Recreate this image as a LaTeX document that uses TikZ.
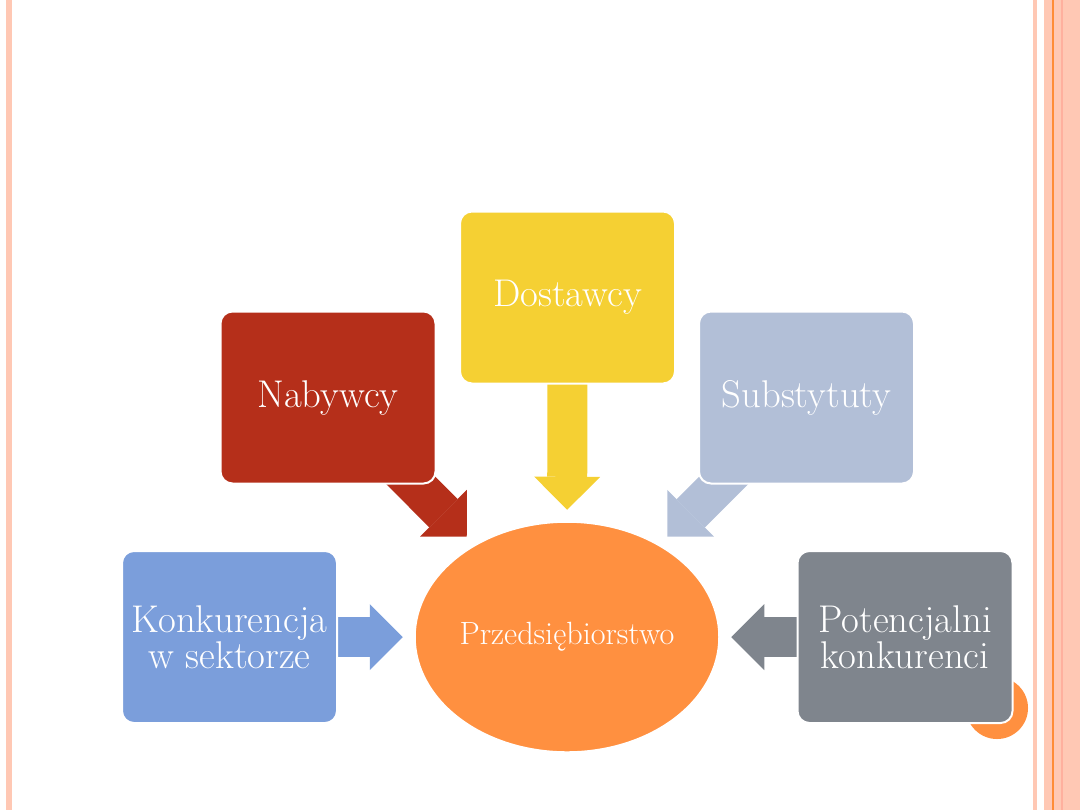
\documentclass[tikz,border=0pt]{standalone}
\usepackage{tikz}
\usetikzlibrary{arrows.meta, shapes.geometric, backgrounds}
\definecolor{konkblue}{HTML}{7B9EDB}
\definecolor{nabred}{HTML}{B52F1A}
\definecolor{dostyellow}{HTML}{F5D033}
\definecolor{subsblue}{HTML}{B2BFD7}
\definecolor{potgray}{HTML}{7F858D}
\definecolor{firmorange}{HTML}{FF9040}
\definecolor{slidepeach}{HTML}{FFC8B4}
\definecolor{slideorange}{HTML}{FF8C37}

\begin{document}
\begin{tikzpicture}[x=0.2mm, y=-0.2mm,
  box/.style={rectangle, rounded corners=2.4mm, draw=white, line width=0.4mm,
              minimum width=43mm, minimum height=34.4mm, text=white, align=center,
              font=\fontsize{22}{20.5}\selectfont},
  blk/.style={line width=8mm, -{Triangle[width=13.2mm, length=6.6mm, line width=0pt]},
              shorten >=2.3mm}
]
\useasboundingbox (0,0) rectangle (1080,810);
% slide frame
\fill[slidepeach] (6,0) rectangle (12,810);
\fill[slidepeach] (1033,0) rectangle (1037,810);
\fill[slidepeach] (1044,0) rectangle (1080,810);
\fill[slideorange] (1052,0) rectangle (1054,810);
\fill[slidepeach!88!red] (1061,0) rectangle (1063,810);
\node[circle, fill=firmorange, minimum size=12.4mm] (dot) at (997,708) {};

\node[ellipse, fill=firmorange, draw=white, line width=0.3mm, inner sep=0pt,
      minimum width=60.8mm, minimum height=46mm, text=white,
      font=\fontsize{18.3}{20}\selectfont] (firm) at (567,637) {Przedsiębiorstwo};
\node[box, fill=konkblue]   (konk) at (229.5,637) {Konkurencja\\w sektorze};
\node[box, fill=nabred]     (naby) at (328,397.5) {Nabywcy};
\node[box, fill=dostyellow] (dost) at (567.5,297.5) {Dostawcy};
\node[box, fill=subsblue]   (subs) at (806.5,397.5) {Substytuty};
\node[box, fill=potgray]    (pot)  at (905,637) {Potencjalni\\konkurenci};

\begin{scope}[on background layer]
\draw[blk, konkblue]   (konk.center) -- (firm);
\draw[blk, nabred]     (naby.center) -- (firm);
\draw[blk, dostyellow] (dost.center) -- (firm);
\draw[blk, subsblue]   (subs.center) -- (firm);
\draw[blk, potgray]    (pot.center) -- (firm);
\end{scope}
\end{tikzpicture}
\end{document}
